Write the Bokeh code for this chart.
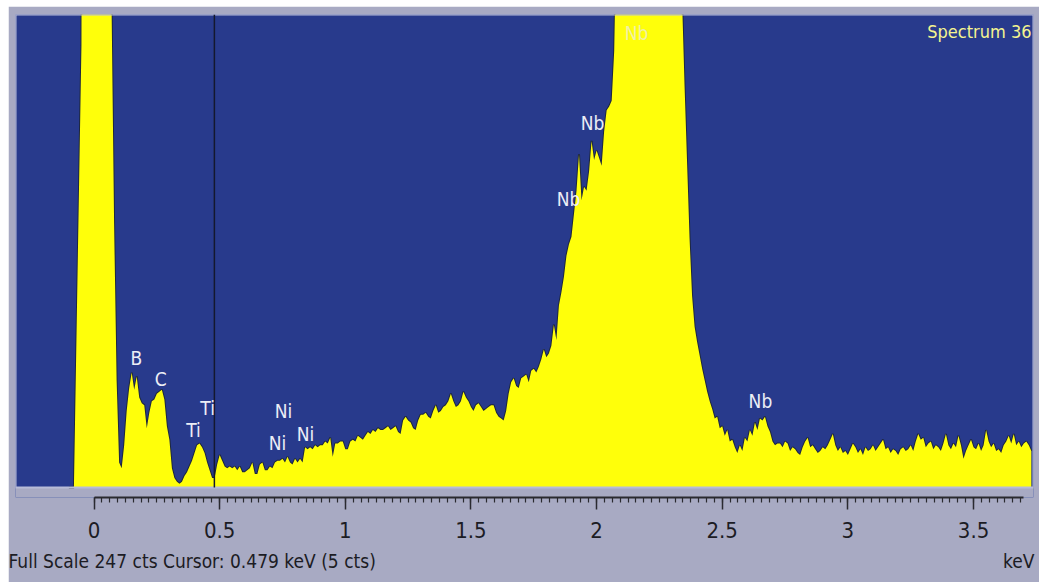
import numpy as np
from bokeh.plotting import figure
from bokeh.models import (Range1d, SingleIntervalTicker, FixedTicker, NumeralTickFormatter,
                          CustomJSTickFormatter, LinearAxis, Label, ColumnDataSource)
from bokeh.core.properties import value
from bokeh.embed import file_html
from bokeh.resources import INLINE

# --- spectrum: counts per 10 eV channel, first channel at -0.10 keV ---
channel_start_kev = -0.10
channel_width_kev = 0.01
counts = [
    # -0.10 .. -0.01
    0, 0, 0, 77, 154, 231, 900, 1800, 2600, 3000,
    # 0.00 .. 0.09 (zero strobe peak)
    3100, 2800, 2100, 1400, 800, 450, 290, 250, 138, 56,
    # 0.10 .. 0.19
    13, 10, 22, 40, 52, 60, 51, 58, 47, 44,
    # 0.20 .. 0.29
    43, 31, 39, 45, 46, 49, 50, 51, 46, 32,
    # 0.30 .. 0.39
    25, 10, 5, 3, 2, 3, 6, 8, 11, 14,
    # 0.40 .. 0.49
    18, 22, 23, 21, 18, 13, 9, 5, 5, 12,
    # 0.50 .. 0.59
    17, 14, 11, 10, 11, 10, 11, 9, 11, 8,
    # 0.60 .. 0.69
    8, 9, 10, 13, 7, 7, 12, 13, 9, 9,
    # 0.70 .. 0.79
    11, 10, 13, 14, 14, 15, 13, 16, 13, 12,
    # 0.80 .. 0.89
    15, 13, 15, 13, 21, 20, 21, 20, 22, 21,
    # 0.90 .. 0.99
    22, 22, 24, 23, 26, 16, 23, 23, 24, 24,
    # 1.00 .. 1.09
    20, 20, 24, 25, 24, 27, 26, 25, 27, 29,
    # 1.10 .. 1.19
    28, 30, 29, 31, 30, 30, 31, 32, 30, 31,
    # 1.20 .. 1.29
    32, 29, 28, 35, 37, 35, 34, 31, 30, 35,
    # 1.30 .. 1.39
    38, 38, 39, 37, 36, 40, 43, 39, 40, 42,
    # 1.40 .. 1.49
    43, 45, 49, 45, 42, 43, 45, 50, 47, 45,
    # 1.50 .. 1.59
    42, 40, 43, 44, 42, 40, 41, 42, 43, 43,
    # 1.60 .. 1.69
    39, 37, 36, 35, 40, 49, 55, 57, 53, 52,
    # 1.70 .. 1.79
    57, 58, 59, 55, 61, 62, 60, 63, 67, 72,
    # 1.80 .. 1.89
    68, 70, 74, 85, 77, 95, 102, 110, 121, 127,
    # 1.90 .. 1.99
    131, 143, 155, 174, 150, 157, 155, 165, 181, 171,
    # 2.00 .. 2.09
    176, 172, 168, 186, 197, 199, 202, 228, 300, 380,
    # 2.10 .. 2.19 (Nb L alpha, off scale)
    470, 560, 640, 710, 770, 820, 850, 870, 880, 875,
    # 2.20 .. 2.29
    860, 830, 790, 740, 680, 610, 540, 470, 410, 360,
    # 2.30 .. 2.39
    320, 290, 275, 262, 255, 210, 170, 130, 100, 84,
    # 2.40 .. 2.49
    76, 69, 62, 56, 50, 45, 41, 36, 37, 31,
    # 2.50 .. 2.59
    32, 27, 30, 24, 25, 21, 18, 22, 19, 26,
    # 2.60 .. 2.69
    24, 30, 27, 34, 30, 36, 35, 37, 32, 29,
    # 2.70 .. 2.72
    24, 22, 23,
    # 2.73 .. 2.82
    23, 21, 24, 23, 19, 21, 20, 18, 17, 21,
    # 2.83 .. 2.92
    24, 26, 21, 22, 20, 18, 19, 21, 20, 22,
    # 2.93 .. 3.02
    25, 28, 22, 19, 21, 18, 19, 17, 20, 23,
    # 3.03 .. 3.12
    21, 18, 20, 17, 21, 19, 20, 22, 19, 21,
    # 3.13 .. 3.22
    23, 25, 20, 21, 18, 20, 19, 17, 20, 21,
    # 3.23 .. 3.32
    19, 20, 22, 19, 24, 28, 25, 26, 21, 23,
    # 3.33 .. 3.42
    24, 20, 22, 21, 19, 23, 28, 22, 20, 23,
    # 3.43 .. 3.52
    21, 27, 22, 15, 19, 22, 25, 21, 20, 23,
    # 3.53 .. 3.62
    19, 22, 30, 24, 21, 23, 19, 20, 18, 22,
    # 3.63 .. 3.73
    24, 27, 23, 28, 22, 24, 21, 23, 24, 22, 19,
]
energy_kev = channel_start_kev + channel_width_kev * np.arange(len(counts))

# --- acquisition / display settings ---
spectrum_name = "Spectrum 36"
full_scale_cts = 247
cursor_kev = 0.479
cursor_cts = counts[int(round((cursor_kev - channel_start_kev) / channel_width_kev))]
status_text = f"Full Scale  {full_scale_cts} cts  Cursor: {cursor_kev} keV ({cursor_cts} cts)"
unit_text = "keV"

# --- element line markers ---
peak_labels = ["B", "C", "Ti", "Ti", "Ni", "Ni", "Ni", "Nb", "Nb", "Nb"]
peak_label_kev = [0.169, 0.265, 0.452, 0.396, 0.754, 0.730, 0.842, 1.888, 1.984, 2.652]
peak_label_cts = [67.4, 56.9, 41.3, 29.8, 40.2, 23.0, 28.2, 150.4, 190.1, 45.4]
# label sitting on the off-scale Nb L alpha peak
top_label = "Nb"
top_label_kev = 2.159
top_label_cts = 237.6

# --- axis ---
tick_step_kev = 0.5
axis_end_kev = 3.7

BLUE = "#283a8c"
GREY = "#a8aac3"
YELLOW = "#ffff0a"
INK = "#1c1c24"
NARROW = "'Liberation Sans Narrow', 'Arial Narrow', 'DejaVu Sans Condensed', sans-serif"

x_lo, x_hi = -0.3124, 3.7386
y_lo, y_hi = -5.22, full_scale_cts

p = figure(width=1031, height=576, margin=(6, 0, 0, 8),
           x_range=Range1d(x_lo, x_hi), y_range=Range1d(y_lo, y_hi),
           output_backend="svg", toolbar_location=None, y_axis_location=None,
           min_border_left=7, min_border_right=6, min_border_top=8,
           min_border_bottom=85,
           background_fill_color=BLUE, border_fill_color=GREY,
           outline_line_color=None)
p.grid.visible = False

# grey strip between the spectrum window and the energy ruler
p.quad(left=[x_lo], right=[x_hi], bottom=[y_lo], top=[0],
       fill_color=GREY, line_color=None)

src = ColumnDataSource(dict(e=energy_kev, c=counts, z=np.zeros(len(counts))))
# dark rim along the spectrum edge, then the yellow fill on top
p.line("e", "c", source=src, line_color="#1c2530", line_width=2.0, line_alpha=0.85)
p.varea(x="e", y1="z", y2="c", source=src, fill_color=YELLOW)

# thin light frame around the spectrum window
p.quad(left=[x_lo], right=[x_hi], bottom=[0], top=[y_hi],
       fill_color=None, line_color="#b8bcd8", line_width=2)

# cursor
p.segment(x0=[cursor_kev], y0=[0], x1=[cursor_kev], y1=[y_hi],
          line_color="#14182e", line_width=1.5)

# element labels
lab = ColumnDataSource(dict(x=peak_label_kev, y=peak_label_cts, t=peak_labels))
p.text("x", "y", "t", source=lab, text_color="#eceef6",
       text_font=value(NARROW), text_font_size="19px",
       text_align="center", text_baseline="middle")
p.text([top_label_kev], [top_label_cts], [top_label], text_color="#f0f0a8",
       text_font=value(NARROW), text_font_size="19px",
       text_align="center", text_baseline="middle")

p.add_layout(Label(x=x_hi - 0.008, y=238.1, text=spectrum_name,
                   text_font=NARROW, text_font_size="18px",
                   text_color="#f4f490", text_align="right",
                   text_baseline="middle"))

# energy ruler
ax = p.xaxis[0]
ax.ticker = SingleIntervalTicker(interval=tick_step_kev, num_minor_ticks=16)
ax.formatter = NumeralTickFormatter(format="0.[0]")
ax.bounds = (0, axis_end_kev)
ax.axis_line_color = "#2a2a30"
ax.axis_line_width = 2
ax.major_tick_in = 0
ax.major_tick_out = 12
ax.major_tick_line_color = "#2a2a30"
ax.major_tick_line_width = 1.5
ax.minor_tick_in = 0
ax.minor_tick_out = 5
ax.minor_tick_line_color = "#2a2a30"
ax.minor_tick_line_width = 1.2
ax.major_label_standoff = 12
ax.major_label_text_font = NARROW
ax.major_label_text_font_size = "22px"
ax.major_label_text_color = INK

# status line under the ruler: a bare axis whose two labels carry the texts
status_axis = LinearAxis(
    ticker=FixedTicker(ticks=[0.40, 3.68]),
    formatter=CustomJSTickFormatter(args=dict(labels=[status_text, unit_text]),
                                    code="return labels[index];"),
    axis_line_color=None, major_tick_line_color=None, minor_tick_line_color=None,
    major_tick_in=0, major_tick_out=0, minor_tick_in=0, minor_tick_out=0,
    major_label_standoff=9,
    major_label_text_font=NARROW, major_label_text_font_size="19px",
    major_label_text_color=INK)
p.add_layout(status_axis, "below")

open("out.html", "w").write(file_html(p, INLINE))
